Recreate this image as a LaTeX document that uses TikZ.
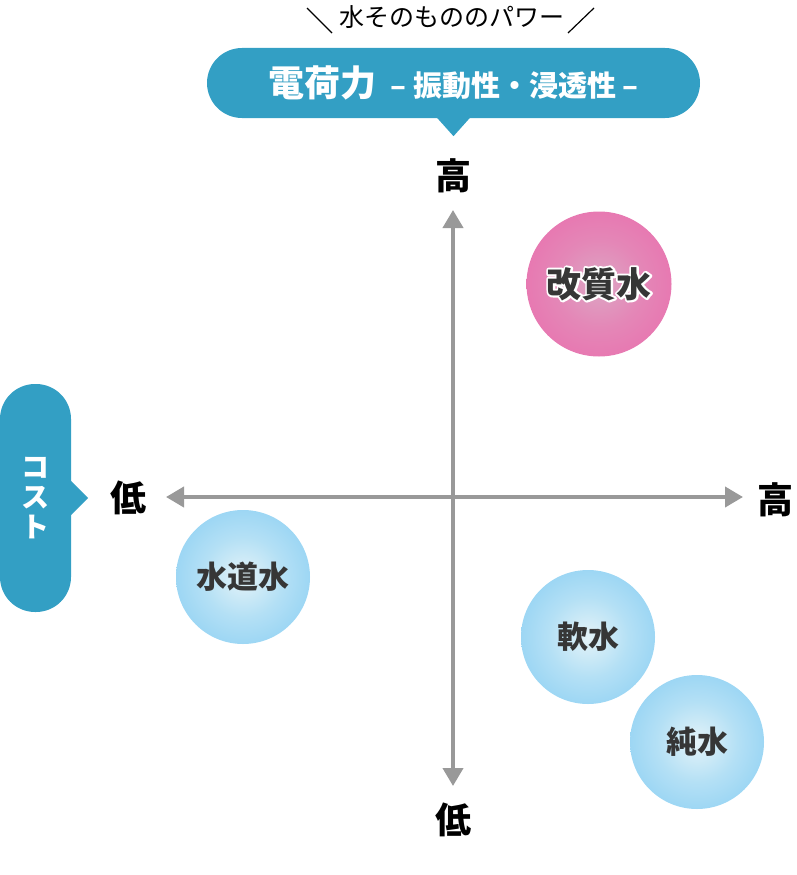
\documentclass[tikz,border=0pt]{standalone}
\usepackage{fontspec}
\newfontfamily\jpfont{Noto Sans CJK JP}
\usetikzlibrary{arrows.meta,positioning,calc}
\definecolor{bannerblue}{HTML}{339FC4}
\definecolor{axisgray}{HTML}{999999}
\definecolor{labelgray}{HTML}{363636}
\definecolor{pinkout}{HTML}{EA6BAC}
\definecolor{pinkmid}{HTML}{E487B7}
\definecolor{pinkin}{HTML}{DCA7C4}
\definecolor{blueout}{HTML}{86CDF3}
\definecolor{bluemid}{HTML}{B4E0F5}
\definecolor{bluein}{HTML}{E4F3F8}
\pgfdeclareradialshading{pinkball}{\pgfpoint{0bp}{0bp}}{color(0bp)=(pinkin); color(15bp)=(pinkmid); color(35bp)=(pinkout); color(50bp)=(pinkout)}
\pgfdeclareradialshading{blueball}{\pgfpoint{0bp}{0bp}}{color(0bp)=(bluein); color(15bp)=(bluemid); color(35bp)=(blueout); color(50bp)=(blueout)}
% white outline behind a text (stroke first, then fill)
\newcommand\halotext[1]{\makebox[0pt][l]{\color{white}\special{pdf:literal direct 1 j 1 Tr 4 w}#1\special{pdf:literal direct 0 Tr 1 w}}#1}
\tikzset{
  axis/.style={draw=axisgray, line width=4pt, {Triangle[length=18pt,width=20pt]}-{Triangle[length=18pt,width=20pt]}},
  axislabel/.style={font=\jpfont\bfseries\fontsize{36}{40}\selectfont, text=black, inner sep=0pt},
  waterball/.style={circle, minimum size=134pt, inner sep=0pt, shading=blueball, font=\jpfont\bfseries\fontsize{31}{34}\selectfont, text=labelgray},
  pill/.style={fill=bannerblue, rounded corners=35pt, inner sep=0pt, text=white},
}

\begin{document}
\begin{tikzpicture}[x=1pt,y=-1pt]
\useasboundingbox (0,0) rectangle (796,875);
% caption and banner
\node[font=\jpfont\fontsize{25}{28}\selectfont, inner sep=0pt] (caption) at (452,17) {水そのもののパワー};
\draw[line width=1.2pt] (307,8) -- (332,33);
\draw[line width=1.2pt] (594,8) -- (568,33);
\node[pill, minimum width=493pt, minimum height=70pt, font=\jpfont\bfseries] (banner) at (453.5,83)
  {{\fontsize{36}{40}\selectfont 電荷力}\hspace{14pt}{\fontsize{29}{32}\selectfont – 振動性・浸透性 –}};
\fill[bannerblue] ($(banner.south)+(-17,-1)$) -- ($(banner.south)+(0,18)$) -- ($(banner.south)+(17,-1)$) -- cycle;
% cost tab
\node[pill, minimum width=71pt, minimum height=228pt, align=center, font=\jpfont\bfseries\fontsize{28}{30}\selectfont] (cost) at (35.5,498) {コ\\ス\\ト};
\fill[bannerblue] ($(cost.east)+(-1,-18)$) -- ($(cost.east)+(17,0)$) -- ($(cost.east)+(-1,18)$) -- cycle;
% axes
\coordinate (top) at (453,210);
\coordinate (bottom) at (453,786);
\coordinate (left) at (166,497);
\coordinate (right) at (743,497);
\draw[axis] (bottom) -- (top);
\draw[axis] (left) -- (right);
\node[axislabel] (hightop) at (453,176) {高};
\node[axislabel] (lowbottom) at (453,820) {低};
\node[axislabel] (lowleft) at (128,498) {低};
\node[axislabel] (highright) at (775,500) {高};
% waters
\node[waterball, shading=pinkball, minimum size=145pt, font=\jpfont\bfseries\fontsize{35}{38}\selectfont] (modified) at (599,284) {\halotext{改質水}};
\node[waterball] (tap) at (243,577) {水道水};
\node[waterball] (soft) at (588,637) {軟水};
\node[waterball] (pure) at (697,742) {純水};
\end{tikzpicture}
\end{document}
